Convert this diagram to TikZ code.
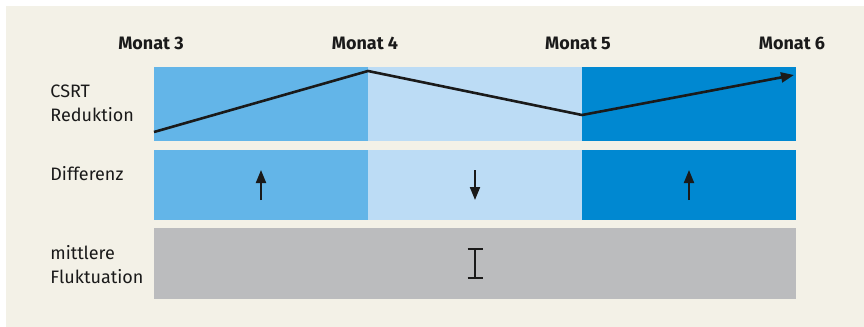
\documentclass[tikz,border=0pt]{standalone}
\usepackage{fontspec}
\setmainfont{Fira Sans}
\usetikzlibrary{arrows.meta}
\definecolor{bgbeige}{HTML}{F3F1E7}
\definecolor{bluemid}{HTML}{63B5E8}
\definecolor{bluelight}{HTML}{BCDCF5}
\definecolor{bluedark}{HTML}{0088D1}
\definecolor{cellgray}{HTML}{BBBCBE}
\definecolor{inkdark}{HTML}{1A1A1A}
\begin{document}
\begin{tikzpicture}[x=0.5pt,y=-0.5pt,
  cell/.style={draw=none, inner sep=0pt, outer sep=0pt, anchor=north west, minimum width=107pt},
  rowa/.style={cell, minimum height=37pt},
  rowb/.style={cell, minimum height=35pt},
  rowc/.style={cell, minimum height=35.5pt, minimum width=321pt},
  monat/.style={font=\fontsize{9pt}{12pt}\selectfont\bfseries, text=inkdark, anchor=base, inner sep=0pt},
  rowlabel/.style={font=\fontsize{9pt}{12pt}\selectfont, text=inkdark, anchor=base west, align=left, inner sep=0pt},
  trend/.style={draw=inkdark, line width=1.3pt, -{Triangle[length=6.5pt,width=5pt]}},
  diffarrow/.style={draw=inkdark, line width=1pt, -{Triangle[length=6.5pt,width=5pt]}},
  ibeam/.style={draw=inkdark, line width=1pt}
]
\useasboundingbox (0,0) rectangle (864,327);
\fill[white] (0,0) rectangle (864,327);
\fill[bgbeige] (6,6) rectangle (864,327);

% month labels
\node[monat] (m3) at (151,49) {Monat 3};
\node[monat] (m4) at (365,49) {Monat 4};
\node[monat] (m5) at (578,49) {Monat 5};
\node[monat] (m6) at (792,49) {Monat 6};

% row labels (base anchor = baseline of last line)
\node[rowlabel] (lcsrt) at (50,121) {CSRT\\Reduktion};
\node[rowlabel] (ldiff) at (50,180) {Differenz};
\node[rowlabel] (lfluk) at (50,283) {mittlere\\Fluktuation};

% row 1
\node[rowa, fill=bluemid] (r1c1) at (154,67) {};
\node[rowa, fill=bluelight] (r1c2) at (368,67) {};
\node[rowa, fill=bluedark] (r1c3) at (582,67) {};
% row 2
\node[rowb, fill=bluemid] (r2c1) at (154,150) {};
\node[rowb, fill=bluelight] (r2c2) at (368,150) {};
\node[rowb, fill=bluedark] (r2c3) at (582,150) {};
% row 3
\node[rowc, fill=cellgray] (r3) at (154,228) {};

% trend line
\coordinate (p0) at (154,132);
\coordinate (p1) at (368,71);
\coordinate (p2) at (582,115);
\coordinate (p3) at (794,75);
\draw[trend] (p0) -- (p1) -- (p2) -- (p3);

% difference arrows
\draw[diffarrow] ([yshift=-7.5pt]r2c1.center) -- ([yshift=7.5pt]r2c1.center);
\draw[diffarrow] ([yshift=7.5pt]r2c2.center) -- ([yshift=-7.5pt]r2c2.center);
\draw[diffarrow] ([yshift=-7.5pt]r2c3.center) -- ([yshift=7.5pt]r2c3.center);

% fluctuation I-beam
\coordinate (it) at ([yshift=7.25pt]r3.center);
\coordinate (ib) at ([yshift=-7.25pt]r3.center);
\draw[ibeam] (it) -- (ib);
\draw[ibeam] ([xshift=-3.75pt]it) -- ([xshift=3.75pt]it);
\draw[ibeam] ([xshift=-3.75pt]ib) -- ([xshift=3.75pt]ib);
\end{tikzpicture}
\end{document}
